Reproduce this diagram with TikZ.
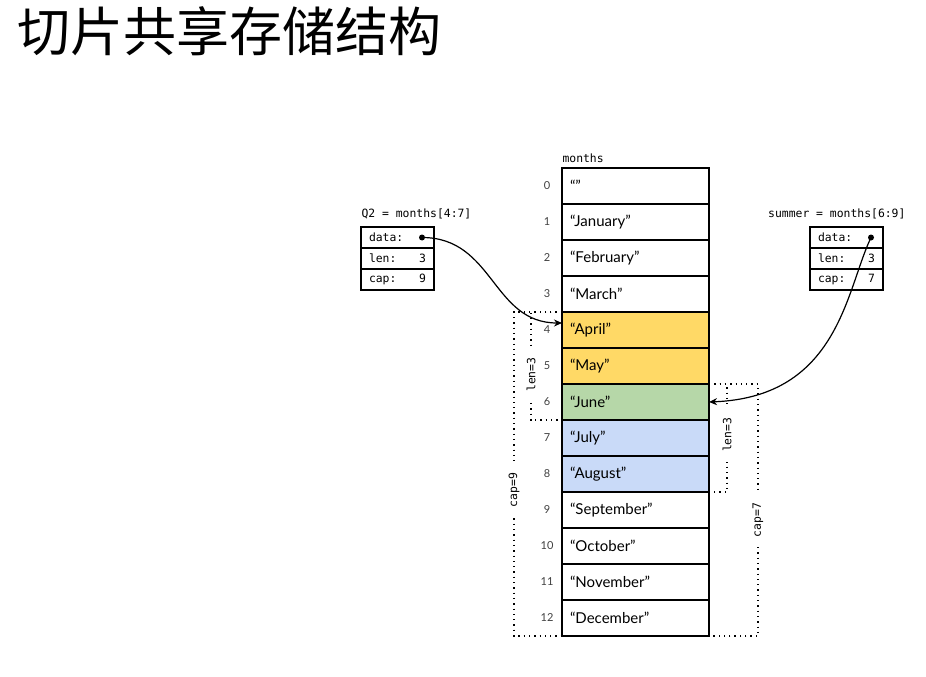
\documentclass[tikz,border=0pt]{standalone}
\usepackage{fontspec}
\setmainfont{Lato}
\setmonofont{DejaVu Sans Mono}
\newfontfamily\cjk{Noto Sans CJK SC}
\usetikzlibrary{positioning,arrows.meta}

\definecolor{aprmay}{HTML}{FFD966}
\definecolor{june}{HTML}{B6D7A8}
\definecolor{julaug}{HTML}{C9DAF8}

\newcommand{\monofont}{\ttfamily\fontsize{11.4}{13}\selectfont}

\tikzset{
    cell/.style={draw, line width=1.3pt, outer sep=0pt, minimum height=36pt, inner xsep=8pt,
        text width=131pt, align=left, font=\fontsize{15}{18}\selectfont},
    idx/.style={font=\fontsize{11}{13}\selectfont, text=black!75},
    field/.style={draw, line width=1.1pt, outer sep=0pt, minimum height=21pt, inner xsep=8pt,
        text width=57pt, align=left, font=\monofont},
    brace/.style={line width=1.3pt, dash pattern=on 1.3pt off 4pt},
    bracelbl/.style={fill=white, rotate=90, inner xsep=10pt, inner ysep=1pt, font=\monofont},
    ptr/.style={line width=1.2pt, -{Stealth[length=8pt,width=7pt]}},
}

\begin{document}
\begin{tikzpicture}[x=1pt, y=-1pt]
    \useasboundingbox (0,0) rectangle (926,677);

    \node[right, inner sep=0pt, font=\cjk\fontsize{53}{60}\selectfont] (title) at (17,31) {切片共享存储结构};

    % the backing array
    \node[right, font=\monofont] (mname) at (559,158) {months};
    \foreach \m/\c [count=\i from 0] in {“”/white, “January”/white, “February”/white, “March”/white,
            “April”/aprmay, “May”/aprmay, “June”/june, “July”/julaug, “August”/julaug,
            “September”/white, “October”/white, “November”/white, “December”/white}
    {
        \node[cell, fill=\c, anchor=north west] (m\i) at (562,{168+36*\i}) {\m};
        \node[idx] (n\i) at (547,{186+36*\i}) {\i};
    }

    % len and cap ranges
    \draw[brace] (m4.north west) -- ++(-48,0) -- node[bracelbl, pos=0.55] {cap=9} ++(0,324) -- (m12.south west);
    \draw[brace] (m4.north west) -- ++(-31,0) -- node[bracelbl, pos=0.58] {len=3} ++(0,108) -- (m6.south west);
    \draw[brace] (m6.north east) -- ++(18,0) -- node[bracelbl, pos=0.47] {len=3} ++(0,108) -- (m8.south east);
    \draw[brace] (m6.north east) -- ++(49,0) -- node[bracelbl, pos=0.54] {cap=7} ++(0,252) -- (m12.south east);

    % Q2 = months[4:7]
    \node[right, font=\monofont] (q2name) at (358,214) {Q2 = months[4:7]};
    \node[field, anchor=north west] (q2data) at (361,227) {data:};
    \node[field, below=0pt of q2data] (q2len) {len:\hfill 3};
    \node[field, below=0pt of q2len] (q2cap) {cap:\hfill 9};
    \coordinate (q2dot) at ([xshift=-12pt]q2data.east);

    % summer = months[6:9]
    \node[left, font=\monofont] (smname) at (909,214) {summer = months[6:9]};
    \node[field, anchor=north west] (smdata) at (810,227) {data:};
    \node[field, below=0pt of smdata] (smlen) {len:\hfill 3};
    \node[field, below=0pt of smlen] (smcap) {cap:\hfill 7};
    \coordinate (smdot) at ([xshift=-12pt]smdata.east);

    % pointers
    \fill (q2dot) circle (3pt);
    \fill (smdot) circle (3pt);
    \draw[ptr] (q2dot) .. controls +(72,0) and +(-70,0) .. ([yshift=7pt]m4.west);
    \draw[ptr] (smdot) .. controls +(-25,52) and +(130,-5) .. (m6.east);
\end{tikzpicture}
\end{document}
